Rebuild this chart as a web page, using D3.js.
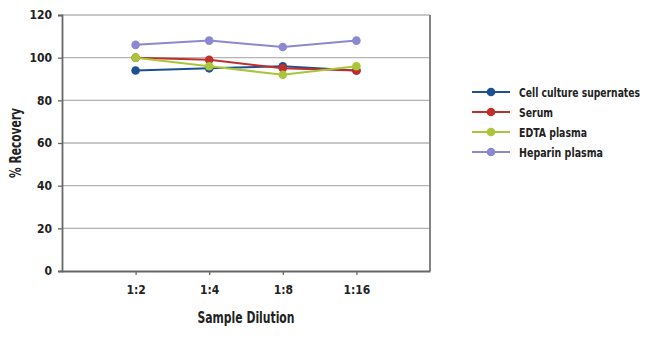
<!DOCTYPE html>
<html><head><meta charset="utf-8">
<script src="https://cdn.jsdelivr.net/npm/d3@7"></script>
<style>
body{margin:0;background:#fff;}
text{font-family:"DejaVu Sans Condensed","DejaVu Sans",sans-serif;font-stretch:condensed;font-weight:bold;fill:#222;}
</style></head>
<body><svg id="c" width="650" height="338"></svg>
<script>
const categories = ["1:2","1:4","1:8","1:16"];
const seriesNames = ["Cell culture supernates","Serum","EDTA plasma","Heparin plasma"];
const cellCulture = [94, 95, 96, 94];
const serum = [100, 99, 95, 94];
const edta = [100, 96, 92, 96];
const heparin = [106, 108, 105, 108];
const yTicks = [0,20,40,60,80,100,120];
const colors = ["#1d4f93","#c0302b","#a9c539","#8c88d0"];

const series = [cellCulture, serum, edta, heparin].map((v,i)=>({name:seriesNames[i], values:v, color:colors[i]}));

const svg = d3.select("#c");
const L=62, R=430, T=15, B=271;
const x = d3.scalePoint().domain(categories).range([L,R]).padding(1);
const y = d3.scaleLinear().domain([0,120]).range([B,T]);

// gridlines
svg.append("g").selectAll("line").data(yTicks.filter(d=>d>0)).join("line")
  .attr("x1",L).attr("x2",R).attr("y1",d=>y(d)).attr("y2",d=>y(d))
  .attr("stroke","#b4b4b4").attr("stroke-width",1.3);
// right border
svg.append("line").attr("x1",R).attr("x2",R).attr("y1",T).attr("y2",B).attr("stroke","#777").attr("stroke-width",1.8);

// axes
const yAxis = svg.append("g").attr("transform",`translate(${L},0)`)
  .call(d3.axisLeft(y).tickValues(yTicks).tickSize(4).tickPadding(6));
yAxis.select(".domain").attr("stroke","#666").attr("stroke-width",1.8);
yAxis.selectAll(".tick line").attr("stroke","#666").attr("stroke-width",1.3);
yAxis.selectAll("text").style("font-size","12px").attr("fill","#222");

const xAxis = svg.append("g").attr("transform",`translate(0,${B})`)
  .call(d3.axisBottom(x).tickSize(4).tickPadding(10).tickSizeOuter(0));
xAxis.select(".domain").attr("stroke","#666").attr("stroke-width",1.8);
xAxis.selectAll(".tick line").attr("stroke","#666").attr("stroke-width",1.3);
xAxis.selectAll("text").style("font-size","12px").attr("fill","#222");

// lines
const line = d3.line().x((d,i)=>x(categories[i])).y(d=>y(d));
series.forEach(s=>{
  svg.append("path").attr("d",line(s.values)).attr("fill","none").attr("stroke",s.color).attr("stroke-width",2);
  svg.append("g").selectAll("circle").data(s.values).join("circle")
    .attr("cx",(d,i)=>x(categories[i])).attr("cy",d=>y(d)).attr("r",4.3).attr("fill",s.color);
});

// axis titles
svg.append("text").attr("x",246).attr("y",323).attr("text-anchor","middle").style("font-size","15px")
  .attr("textLength",97).attr("lengthAdjust","spacingAndGlyphs").text("Sample Dilution");
svg.append("text").attr("transform","translate(21,143) rotate(-90)").attr("text-anchor","middle").style("font-size","15px")
  .attr("textLength",70).attr("lengthAdjust","spacingAndGlyphs").text("% Recovery");

// legend
const legendWidths = [121, 34, 68, 84];
const lg = svg.append("g");
series.forEach((s,i)=>{
  const yy = 92 + i*20;
  lg.append("line").attr("x1",472).attr("x2",510).attr("y1",yy).attr("y2",yy).attr("stroke",s.color).attr("stroke-width",2);
  lg.append("circle").attr("cx",491).attr("cy",yy).attr("r",4.3).attr("fill",s.color);
  lg.append("text").attr("x",519).attr("y",yy).attr("dy","0.35em").style("font-size","13px")
    .attr("textLength",legendWidths[i]).attr("lengthAdjust","spacingAndGlyphs").text(s.name);
});
</script></body></html>
